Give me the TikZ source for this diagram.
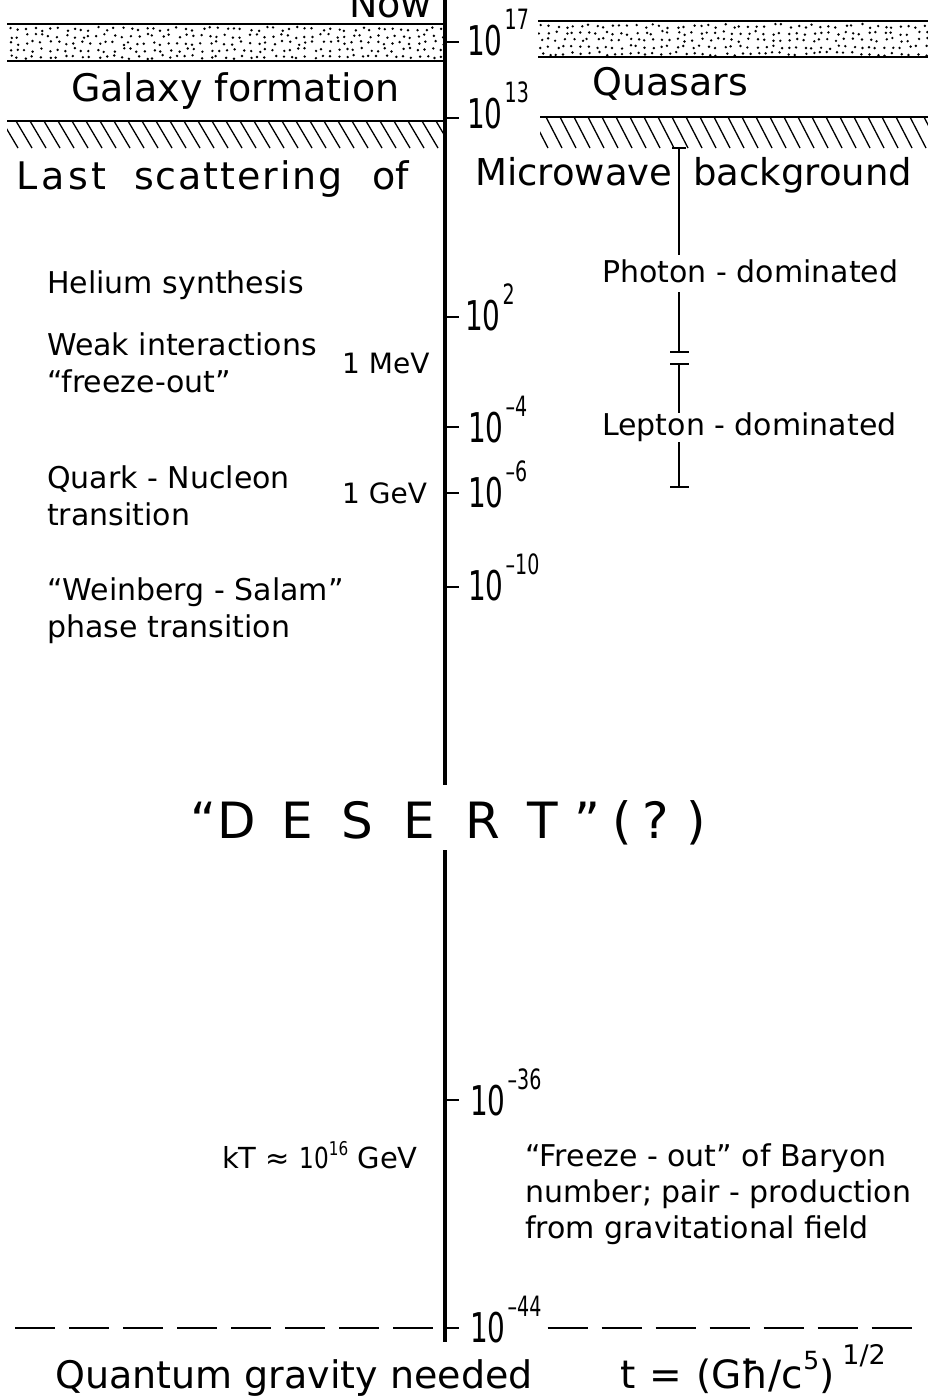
\documentclass[tikz,border=0pt]{standalone}
\usepackage{fontspec}
\setmainfont{DejaVu Sans}
\usepackage{graphicx}
\newcommand\pw[1]{\scalebox{0.68}[1]{\fontsize{41}{41}\selectfont 10\kern3pt\raisebox{26pt}{\fontsize{28}{28}\selectfont #1}}}
\begin{document}
\begin{tikzpicture}[x=1pt,y=-1pt,
  big/.style={font=\fontsize{38}{38}\selectfont,inner sep=0pt,anchor=base west},
  mid/.style={font=\fontsize{30}{30}\selectfont,inner sep=0pt,anchor=base west},
  lab/.style={inner sep=0pt,anchor=base west},
  des/.style={font=\fontsize{50}{50}\selectfont,inner sep=0pt,anchor=base west},
  axisline/.style={line width=3.2pt},
  tickline/.style={line width=2.4pt},
  bandline/.style={line width=2pt},
  hatchline/.style={line width=1.3pt},
  barline/.style={line width=1.6pt},
  dashline/.style={line width=2pt,dash pattern=on 40pt off 14pt}]
\useasboundingbox (0,0) rectangle (928,1398);

% ---- axis
\coordinate (axtop) at (445,0);
\coordinate (axbreakA) at (445,785);
\coordinate (axbreakB) at (445,850);
\coordinate (axbot) at (445,1342);
\draw[axisline] (axtop) -- (axbreakA);
\draw[axisline] (axbreakB) -- (axbot);

% ---- ticks
\foreach \n/\y in {ta/42,tb/118,tc/317,td/427,te/493,tf/587,tg/1100,th/1328}{
  \coordinate (\n1) at (445,\y);
  \coordinate (\n2) at (459,\y);
  \draw[tickline] (\n1) -- (\n2);
}

% ---- tick labels
\node[lab] (l17) at (467,55) {\pw{17}};
\node[lab] (l13) at (467,128) {\pw{13}};
\node[lab] (l2) at (465,330) {\pw{2}};
\node[lab] (l4) at (468,442) {\pw{–4}};
\node[lab] (l6) at (468,507) {\pw{–6}};
\node[lab] (l10) at (468,600) {\pw{–10}};
\node[lab] (l36) at (470,1115) {\pw{–36}};
\node[lab] (l44) at (470,1342) {\pw{–44}};

% ---- stippled bands
\draw[bandline] (7,24) -- (445,24);
\draw[bandline] (7,61) -- (445,61);
\draw[bandline] (538,21) -- (928,21);
\draw[bandline] (538,57) -- (928,57);
\pgfmathsetseed{7}
\begin{scope}
\clip (7,25) rectangle (444,60);
\foreach \i in {0,...,54}{\foreach \j in {0,...,4}{
  \fill ({10+\i*8+rand*2.5},{29+\j*7+rand*2}) circle (1.35pt);}}
\end{scope}
\begin{scope}
\clip (538,22) rectangle (928,56);
\foreach \i in {0,...,49}{\foreach \j in {0,...,4}{
  \fill ({541+\i*8+rand*2.5},{26+\j*7+rand*2}) circle (1.35pt);}}
\end{scope}

% ---- hatched bands
\draw[bandline] (7,121) -- (445,121);
\draw[bandline] (540,117) -- (928,117);
\begin{scope}
\clip (7,121) rectangle (444,149);
\foreach \x in {2,16,...,440} \draw[hatchline] (\x,121) -- (\x+16,148);
\end{scope}
\begin{scope}
\clip (540,117) rectangle (928,149);
\foreach \x in {532,546,...,930} \draw[hatchline] (\x,117) -- (\x+16,148);
\end{scope}

% ---- top texts
\node[big,anchor=base east] (now) at (432,17) {Now};
\node[big] (galaxy) at (71,101) {Galaxy formation};
\node[big] (quasars) at (592,95) {Quasars};
\node[big] (last) at (16,189) {\addfontfeatures{LetterSpace=10}Last};
\node[big] (scat) at (134,189) {\addfontfeatures{LetterSpace=5}scattering};
\node[big] (of) at (372,189) {of};
\node[big,font=\fontsize{37}{37}\selectfont] (micro) at (475,185) {Microwave};
\node[big,font=\fontsize{37}{37}\selectfont] (backg) at (693,185) {background};

% ---- photon / lepton bars
\coordinate (pc1) at (679,148);
\coordinate (pe1) at (679,255);
\coordinate (ps2) at (679,292);
\coordinate (pc2) at (679,352);
\coordinate (lc1) at (679,364);
\coordinate (le1) at (679,413);
\coordinate (ls2) at (679,442);
\coordinate (lc2) at (679,487);
\draw[barline] (pc1) -- (pe1);
\draw[barline] (ps2) -- (pc2);
\draw[barline] (lc1) -- (le1);
\draw[barline] (ls2) -- (lc2);
\draw[barline] ([xshift=-7pt]pc1) -- ([xshift=7pt]pc1);
\draw[barline] ([xshift=-9pt]pc2) -- ([xshift=10pt]pc2);
\draw[barline] ([xshift=-9pt]lc1) -- ([xshift=10pt]lc1);
\draw[barline] ([xshift=-9pt]lc2) -- ([xshift=10pt]lc2);
\node[mid] (photon) at (602,282) {Photon - dominated};
\node[mid] (lepton) at (602,435) {Lepton - dominated};

% ---- left column texts
\node[mid] (helium) at (47,293) {Helium synthesis};
\node[mid] (weak) at (47,355) {Weak interactions};
\node[mid] (freeze) at (47,392) {“freeze-out”};
\node[mid,font=\fontsize{28}{28}\selectfont] (mev) at (342,373) {1 MeV};
\node[mid] (quark) at (47,488) {Quark - Nucleon};
\node[mid] (trans) at (47,525) {transition};
\node[mid,font=\fontsize{28}{28}\selectfont] (gev) at (342,503) {1 GeV};
\node[mid] (weinberg) at (47,600) {“Weinberg - Salam”};
\node[mid] (phase) at (47,637) {phase transition};

% ---- DESERT
\node[des] (d1) at (190,838) {“};
\node[des] (d2) at (217,838) {D};
\node[des] (d3) at (281,838) {E};
\node[des] (d4) at (341,838) {S};
\node[des] (d5) at (403,838) {E};
\node[des] (d6) at (465,838) {R};
\node[des] (d7) at (527,838) {T};
\node[des] (d8) at (574,838) {”};
\node[des] (d9) at (612,838) {(};
\node[des] (d10) at (642,838) {?};
\node[des] (d11) at (686,838) {)};

% ---- lower texts
\node[mid,font=\fontsize{29}{29}\selectfont] (kt) at (222,1168)
  {kT ≈ \scalebox{0.8}[1]{10\raisebox{13pt}{\fontsize{19}{19}\selectfont 16}} GeV};
\node[mid] (fo1) at (525,1166) {“Freeze - out” of Baryon};
\node[mid] (fo2) at (525,1202) {number; pair - production};
\node[mid] (fo3) at (525,1238) {from gravitational field};

% ---- Planck line
\coordinate (dlA) at (15,1328);
\coordinate (dlB) at (925,1328);
\draw[dashline] (dlA) -- (th1);
\draw[dashline] ([xshift=6pt]l44.east |- dlB) -- (dlB);
\node[big] (qg) at (55,1388) {Quantum gravity needed};
\node[big,font=\fontsize{39}{39}\selectfont] (tpl) at (620,1388)
  {t\hspace{14pt}=\hspace{14pt}(Għ/c\raisebox{19pt}{\fontsize{25}{25}\selectfont 5})\kern8pt\raisebox{24pt}{\fontsize{27}{27}\selectfont 1/2}};
\end{tikzpicture}
\end{document}
